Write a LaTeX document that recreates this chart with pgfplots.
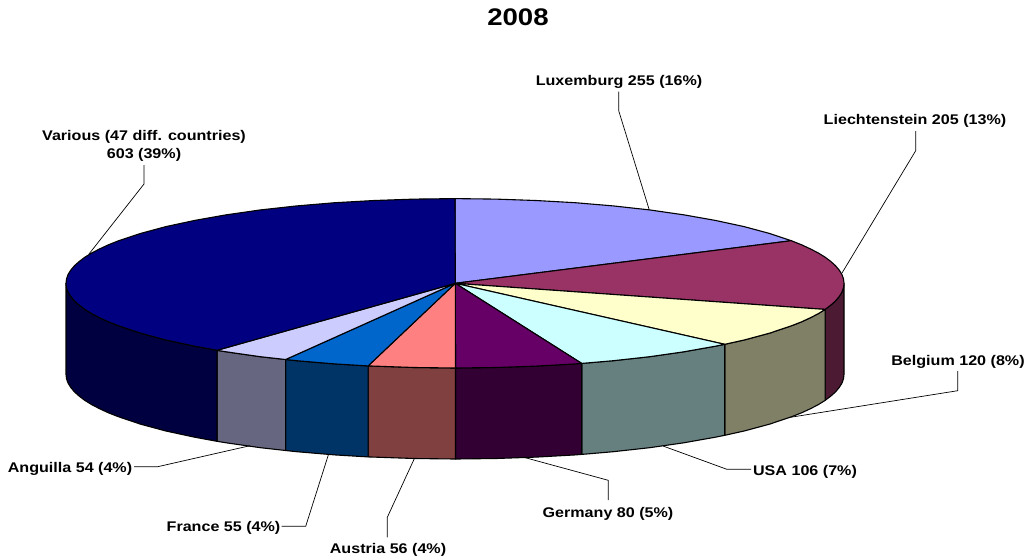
\documentclass[border=0pt]{standalone}
\usepackage{pgfplots}
\pgfplotsset{compat=1.18}
\usepackage{fontspec}
\setmainfont{Liberation Sans}
\definecolor{cVar}{HTML}{000080}\definecolor{sVar}{HTML}{000040}
\definecolor{cLux}{HTML}{9999FF}
\definecolor{cLie}{HTML}{993366}\definecolor{sLie}{HTML}{4D1A33}
\definecolor{cBel}{HTML}{FFFFCC}\definecolor{sBel}{HTML}{808066}
\definecolor{cUSA}{HTML}{CCFFFF}\definecolor{sUSA}{HTML}{668080}
\definecolor{cGer}{HTML}{660066}\definecolor{sGer}{HTML}{330033}
\definecolor{cAut}{HTML}{FF8080}\definecolor{sAut}{HTML}{804040}
\definecolor{cFra}{HTML}{0066CC}\definecolor{sFra}{HTML}{003366}
\definecolor{cAng}{HTML}{CCCCFF}\definecolor{sAng}{HTML}{666680}
\tikzset{lab/.style={font=\fontsize{14}{18}\selectfont\bfseries,xscale=1.15,align=center,inner sep=0pt,text=black}}
\pgfplotsset{slice/.style={draw=black,line width=1.1pt,line join=round,mark=none,fill=#1},
  leader/.style={draw=black,line width=0.7pt,mark=none,forget plot}}
\begin{document}
\begin{tikzpicture}
\useasboundingbox (0,0) rectangle (1027pt,558pt);
\begin{axis}[at={(0,0)},anchor=south west,width=1027pt,height=558pt,scale only axis,hide axis,
  xmin=0,xmax=1027,ymin=0,ymax=558,y dir=reverse,clip=false]
% side walls
\addplot[slice=sLie] coordinates {(844,283.3)(843.5,287.7)(841.9,292.2)(839.2,296.5)(835.5,300.9)(830.7,305.2)(825.1,309.4)(825.1,400.4)(830.7,396.2)(835.5,391.9)(839.2,387.5)(841.9,383.2)(843.5,378.7)(844,374.3)(844,283.3)};
\addplot[slice=sBel] coordinates {(825.1,309.4)(818.2,313.7)(810.4,317.7)(801.6,321.8)(791.9,325.6)(769.7,333.1)(744.1,340)(724.7,344.3)(724.7,435.3)(744.1,431)(769.7,424.1)(791.9,416.6)(801.6,412.8)(810.4,408.7)(818.2,404.7)(825.1,400.4)(825.1,309.4)};
\addplot[slice=sUSA] coordinates {(724.7,344.3)(715.3,346.2)(683.7,351.8)(649.5,356.7)(613.2,360.7)(581.7,363.4)(581.7,454.4)(613.2,451.7)(649.5,447.7)(683.7,442.8)(715.3,437.2)(724.7,435.3)(724.7,344.3)};
\addplot[slice=sGer] coordinates {(581.7,363.4)(575.2,363.9)(535.9,366.1)(495.7,367.5)(455.5,368)(455.5,459)(495.7,458.5)(535.9,457.1)(575.2,454.9)(581.7,454.4)(581.7,363.4)};
\addplot[slice=sAut] coordinates {(455.5,368)(414.3,367.5)(374.1,366.1)(368.1,365.9)(368.1,456.9)(374.1,457.1)(414.3,458.5)(455.5,459)(455.5,368)};
\addplot[slice=sFra] coordinates {(368.1,365.9)(334.8,363.9)(296.8,360.7)(285.6,359.5)(285.6,450.5)(296.8,451.7)(334.8,454.9)(368.1,456.9)(368.1,365.9)};
\addplot[slice=sAng] coordinates {(285.6,359.5)(260.5,356.7)(226.3,351.8)(217,350.3)(217,441.3)(226.3,442.8)(260.5,447.7)(285.6,450.5)(285.6,359.5)};
\addplot[slice=sVar] coordinates {(217,350.3)(194.7,346.2)(165.9,340)(140.3,333.1)(118.1,325.6)(108.4,321.8)(99.6,317.7)(91.8,313.7)(85,309.5)(79.3,305.2)(74.5,300.9)(70.8,296.5)(68.1,292.2)(66.5,287.7)(66,283.3)(66,374.3)(66.5,378.7)(68.1,383.2)(70.8,387.5)(74.5,391.9)(79.3,396.2)(85,400.5)(91.8,404.7)(99.6,408.7)(108.4,412.8)(118.1,416.6)(140.3,424.1)(165.9,431)(194.7,437.2)(217,441.3)(217,350.3)};
% top slices
\addplot[slice=cLux] coordinates {(455.3,283.3)(455,198.6)(495.7,199.1)(535.9,200.5)(575.2,202.7)(613.2,205.9)(649.5,209.9)(683.7,214.8)(715.3,220.4)(744.1,226.6)(769.7,233.5)(791.3,240.7)(455.3,283.3)};
\addplot[slice=cLie] coordinates {(455.3,283.3)(791.3,240.7)(801.6,244.8)(810.4,248.9)(818.2,252.9)(825,257.1)(830.7,261.4)(835.5,265.7)(839.2,270.1)(841.9,274.4)(843.5,278.9)(844,283.3)(843.5,287.7)(841.9,292.2)(839.2,296.5)(835.5,300.9)(830.7,305.2)(825.1,309.4)(455.3,283.3)};
\addplot[slice=cBel] coordinates {(455.3,283.3)(825.1,309.4)(818.2,313.7)(810.4,317.7)(801.6,321.8)(791.9,325.6)(769.7,333.1)(744.1,340)(724.7,344.3)(455.3,283.3)};
\addplot[slice=cUSA] coordinates {(455.3,283.3)(724.7,344.3)(715.3,346.2)(683.7,351.8)(649.5,356.7)(613.2,360.7)(581.7,363.4)(455.3,283.3)};
\addplot[slice=cGer] coordinates {(455.3,283.3)(581.7,363.4)(575.2,363.9)(535.9,366.1)(495.7,367.5)(455.5,368)(455.3,283.3)};
\addplot[slice=cAut] coordinates {(455.3,283.3)(455.5,368)(414.3,367.5)(374.1,366.1)(368.1,365.9)(455.3,283.3)};
\addplot[slice=cFra] coordinates {(455.3,283.3)(368.1,365.9)(334.8,363.9)(296.8,360.7)(285.6,359.5)(455.3,283.3)};
\addplot[slice=cAng] coordinates {(455.3,283.3)(285.6,359.5)(260.5,356.7)(226.3,351.8)(217,350.3)(455.3,283.3)};
\addplot[slice=cVar] coordinates {(455.3,283.3)(217,350.3)(194.7,346.2)(165.9,340)(140.3,333.1)(118.1,325.6)(108.4,321.8)(99.6,317.7)(91.8,313.7)(85,309.5)(79.3,305.2)(74.5,300.9)(70.8,296.5)(68.1,292.2)(66.5,287.7)(66,283.3)(66.5,278.9)(68.1,274.4)(70.8,270.1)(74.5,265.7)(79.3,261.4)(85,257.1)(91.8,252.9)(99.6,248.9)(108.4,244.8)(118.1,240.9)(140.3,233.5)(165.9,226.6)(194.7,220.4)(226.3,214.8)(260.5,209.9)(296.8,205.9)(334.8,202.7)(374.1,200.5)(414.3,199.1)(455,198.6)(455.3,283.3)};
% leader lines
\addplot[leader] coordinates {(618.7,91.7)(618.7,110.7)(649.3,210)};
\addplot[leader] coordinates {(915.7,131)(915.7,150.7)(842,273)};
\addplot[leader] coordinates {(144,165)(144,184)(89,254)};
\addplot[leader] coordinates {(957.7,371)(957.7,390.7)(790.3,417.3)};
\addplot[leader] coordinates {(751,469.3)(726.9,469.3)(663,446)};
\addplot[leader] coordinates {(608.3,500)(608.3,480.3)(525.3,457.7)};
\addplot[leader] coordinates {(387.3,537.3)(387.3,517.3)(414.3,458.7)};
\addplot[leader] coordinates {(281.7,526.3)(305.7,526.3)(328.3,455)};
\addplot[leader] coordinates {(134,466.7)(157.7,466.7)(250,445.7)};
% labels
\node[lab,font=\fontsize{24}{28}\selectfont\bfseries] at (axis cs:518,17.5) {2008};
\node[lab] at (axis cs:619,82) {Luxemburg 255 (16\%)};
\node[lab] at (axis cs:915,121) {Liechtenstein 205 (13\%)};
\node[lab] at (axis cs:144,146) {Various (47 diff. countries)\\603 (39\%)};
\node[lab] at (axis cs:958,362) {Belgium 120 (8\%)};
\node[lab] at (axis cs:805,472) {USA 106 (7\%)};
\node[lab] at (axis cs:608,514) {Germany 80 (5\%)};
\node[lab] at (axis cs:388,550) {Austria 56 (4\%)};
\node[lab] at (axis cs:223.5,528) {France 55 (4\%)};
\node[lab] at (axis cs:70,469) {Anguilla 54 (4\%)};
\end{axis}
\end{tikzpicture}
\end{document}
